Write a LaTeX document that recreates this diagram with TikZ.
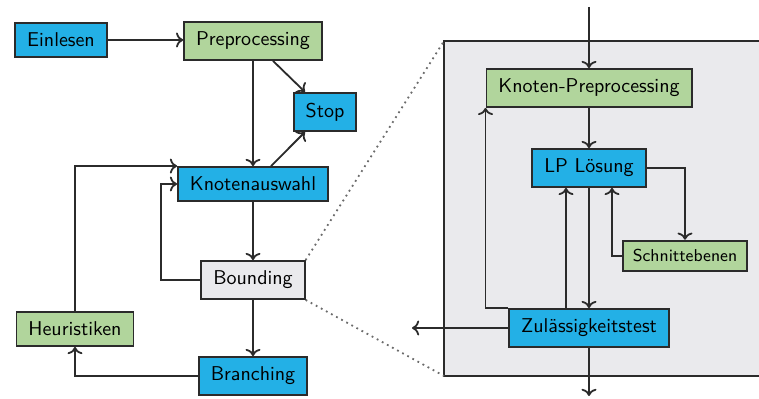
\documentclass[tikz,border=0pt]{standalone}
\usepackage{tikz}
\usetikzlibrary{arrows.meta,calc,positioning}
\definecolor{ink}{HTML}{2B2B2B}
\definecolor{stepblue}{HTML}{23B0E6}
\definecolor{stepgreen}{HTML}{B1D59C}
\definecolor{panel}{HTML}{EAEAED}
\tikzset{
  box/.style={draw=ink,line width=0.9pt,inner xsep=6pt,inner ysep=5pt,font=\sffamily},
  bluebox/.style={box,fill=stepblue},
  greenbox/.style={box,fill=stepgreen},
  graybox/.style={box,fill=panel},
  flow/.style={->,line width=0.9pt,ink}
}
\begin{document}
\begin{tikzpicture}[x=0.5pt,y=-0.5pt]
\useasboundingbox (0,0) rectangle (759,399);
% zoom panel
\fill[panel] (444,41) rectangle (760,376);
\draw[ink,line width=0.8pt] (760,41) -- (444,41) -- (444,376) -- (760,376);
% left flow
\node[bluebox] (einlesen) at (61,40) {Einlesen};
\node[greenbox] (prep) at (253,41) {Preprocessing};
\node[bluebox] (stop) at (325,112) {Stop};
\node[bluebox] (auswahl) at (253,184) {Knotenauswahl};
\node[graybox] (bounding) at (253,280) {Bounding};
\node[greenbox] (heur) at (75,329) {Heuristiken};
\node[bluebox] (branch) at (253,376) {Branching};
\draw[flow] (einlesen) -- (einlesen -| prep.west);
\draw[flow] (prep) -- (auswahl);
\draw[flow] ($(prep.south)+(20,0)$) -- ($(stop.north)+(-20,0)$);
\draw[flow] ($(auswahl.north)+(18,0)$) -- ($(stop.south)+(-20,0)$);
\draw[flow] (auswahl) -- (bounding);
\draw[flow] (bounding) -- (branch);
\draw[flow] (bounding.west) -- ++(-39,0) |- (auswahl.west);
\draw[flow] (heur.north) |- (auswahl.north west);
\draw[flow] (branch.west) -| (heur.south);
% right flow
\coordinate (in) at (589,7);
\coordinate (outl) at (412,328);
\coordinate (outd) at (589,396);
\node[greenbox] (kprep) at (589,88) {Knoten-Preprocessing};
\node[bluebox] (lp) at (589,168) {LP Lösung};
\node[greenbox,inner xsep=5pt,inner ysep=4.5pt,font=\sffamily\fontsize{8.6}{10}\selectfont] (schnitt) at (685,256) {Schnittebenen};
\node[bluebox] (zul) at (589,328) {Zulässigkeitstest};
\draw[flow] (in) -- (kprep);
\draw[flow] (kprep) -- (lp);
\draw[flow] (lp.east) -| (schnitt.north);
\draw[flow] (schnitt.west) -| ($(lp.south)+(23,0)$);
\draw[flow] (lp) -- (zul);
\draw[flow] ($(zul.north)+(-23,0)$) -- ($(lp.south)+(-23,0)$);
\draw[flow] (zul.north west) -| (kprep.south west);
\draw[flow] (zul.west) -- (outl);
\draw[flow] (zul.south) -- (outd);
% zoom lines
\draw[ink!70,line width=0.9pt,dotted] (bounding.north east) -- (444,41);
\draw[ink!70,line width=0.9pt,dotted] (bounding.south east) -- (444,376);
\end{tikzpicture}
\end{document}
